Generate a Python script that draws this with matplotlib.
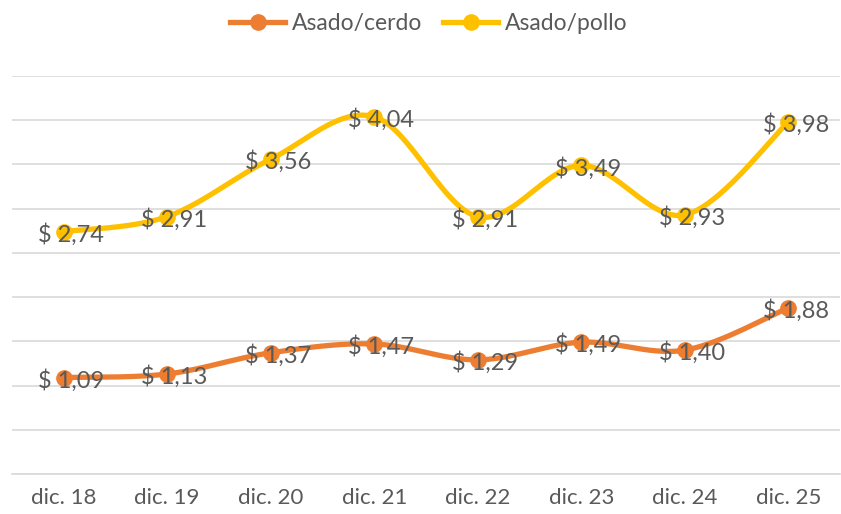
import numpy as np
import matplotlib
matplotlib.use("Agg")
import matplotlib.pyplot as plt
from matplotlib.lines import Line2D

categories = ["dic. 18", "dic. 19", "dic. 20", "dic. 21", "dic. 22", "dic. 23", "dic. 24", "dic. 25"]
asado_cerdo = [1.09, 1.13, 1.37, 1.47, 1.29, 1.49, 1.40, 1.88]
asado_pollo = [2.74, 2.91, 3.56, 4.04, 2.91, 3.49, 2.93, 3.98]

series = [("Asado/cerdo", asado_cerdo, "#ED7D31"), ("Asado/pollo", asado_pollo, "#FFC000")]

plt.rcParams['font.family'] = ['Lato', 'DejaVu Sans']
TEXT = "#595959"


def smooth(x, y, n=30):
    # Excel-like smoothing: Catmull-Rom bezier
    x = np.asarray(x, float); y = np.asarray(y, float)
    px, py = [], []
    m = len(x)
    for i in range(m - 1):
        p0 = (x[max(i - 1, 0)], y[max(i - 1, 0)])
        p1 = (x[i], y[i]); p2 = (x[i + 1], y[i + 1])
        p3 = (x[min(i + 2, m - 1)], y[min(i + 2, m - 1)])
        c1 = (p1[0] + (p2[0] - p0[0]) / 6, p1[1] + (p2[1] - p0[1]) / 6)
        c2 = (p2[0] - (p3[0] - p1[0]) / 6, p2[1] - (p3[1] - p1[1]) / 6)
        t = np.linspace(0, 1, n)
        bx = (1 - t) ** 3 * p1[0] + 3 * (1 - t) ** 2 * t * c1[0] + 3 * (1 - t) * t ** 2 * c2[0] + t ** 3 * p2[0]
        by = (1 - t) ** 3 * p1[1] + 3 * (1 - t) ** 2 * t * c1[1] + 3 * (1 - t) * t ** 2 * c2[1] + t ** 3 * p2[1]
        px.extend(bx); py.extend(by)
    return np.array(px), np.array(py)


fig = plt.figure(figsize=(8.41, 5.14), dpi=100)
ax = fig.add_axes([0.014, 0.078, 0.985, 0.774])
xs = np.arange(len(categories))
handles = []
for name, vals, col in series:
    sx, sy = smooth(xs, vals)
    ax.plot(sx, sy, color=col, lw=3.8, solid_capstyle='round', zorder=3)
    ax.plot(xs, vals, 'o', color=col, ms=11, zorder=4)
    for xi, v in zip(xs, vals):
        ax.text(xi + 0.07, v - 0.03, f"$ {v:.2f}".replace('.', ','), ha='center', va='center',
                fontsize=17, color=TEXT, zorder=5)
    handles.append(Line2D([0], [0], color=col, lw=3.8, marker='o', ms=11, label=name))

ax.set_xlim(-0.5, len(categories) - 0.5)
ax.set_ylim(0, 4.5)
ax.set_yticks(np.arange(0, 4.51, 0.5))
ax.yaxis.grid(True, color="#D9D9D9", lw=1.2)
ax.set_axisbelow(True)
ax.tick_params(axis='y', left=False, labelleft=False)
ax.tick_params(axis='x', length=0, labelsize=16, labelcolor=TEXT, pad=10)
ax.set_xticks(xs)
ax.set_xticklabels(categories)
for s in ['top', 'right', 'left']:
    ax.spines[s].set_visible(False)
ax.spines['bottom'].set_color("#D9D9D9")
ax.spines['bottom'].set_linewidth(1.2)

fig.legend(handles=handles, loc='center', bbox_to_anchor=(0.51, 0.955), ncol=2, frameon=False,
           fontsize=16.5, labelcolor=TEXT, handlelength=2.4, columnspacing=0.9, handletextpad=0.3)

fig.savefig("out.png", dpi=100)
